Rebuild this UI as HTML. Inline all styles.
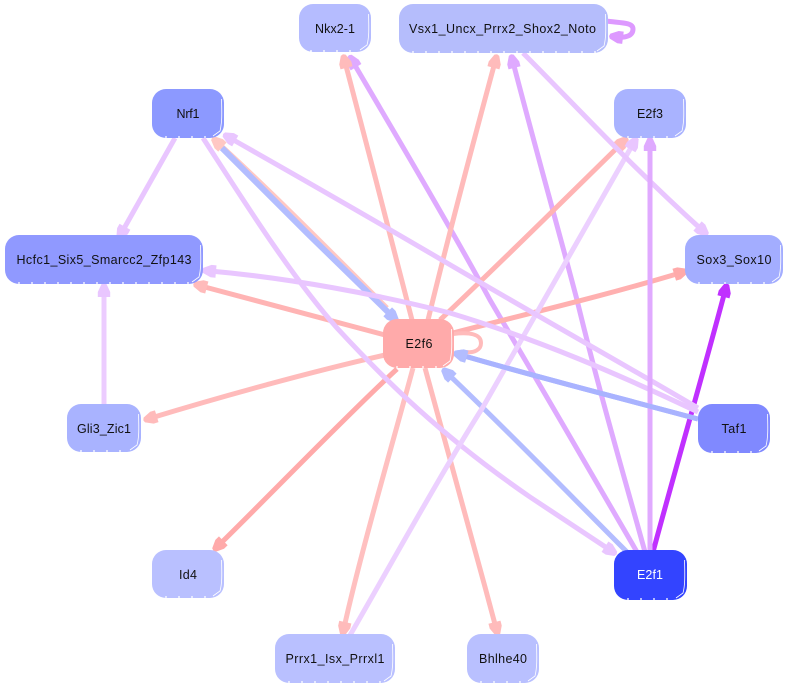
<!DOCTYPE html>
<html lang="en">
<head>
<meta charset="utf-8">
<title>Network diagram</title>
<style>
html,body{margin:0;padding:0;background:#fff;width:788px;height:689px;overflow:hidden}
svg{display:block}
text{font-family:"Liberation Sans",sans-serif;font-size:12.5px;text-anchor:middle;fill:#111}
.e{fill:none;stroke-width:5;stroke-linecap:butt;stroke-linejoin:round}
.d{fill:none;stroke:#fff;stroke-width:.8}
.b{fill:none;stroke:#fff;stroke-width:1.2;stroke-dasharray:2 11}
</style>
</head>
<body>
<svg width="788" height="689" viewBox="0 0 788 689" xmlns="http://www.w3.org/2000/svg">
<defs>
<marker id="a1" markerUnits="userSpaceOnUse" markerWidth="20" markerHeight="16" viewBox="-10 -8 20 16" refX="0" refY="0" orient="auto"><path d="M-6,-6.200 L-1,-6.200 L7,-2.500 L8,0 L7,2.500 L-1,6.200 L-6,6.200Z" fill="#ffbbbb"/></marker>
<marker id="a2" markerUnits="userSpaceOnUse" markerWidth="20" markerHeight="16" viewBox="-10 -8 20 16" refX="0" refY="0" orient="auto"><path d="M-6,-6.200 L-1,-6.200 L7,-2.500 L8,0 L7,2.500 L-1,6.200 L-6,6.200Z" fill="#dfaaff"/></marker>
<marker id="a3" markerUnits="userSpaceOnUse" markerWidth="20" markerHeight="16" viewBox="-10 -8 20 16" refX="0" refY="0" orient="auto"><path d="M-6,-6.200 L-1,-6.200 L7,-2.500 L8,0 L7,2.500 L-1,6.200 L-6,6.200Z" fill="#e9c6ff"/></marker>
<marker id="a4" markerUnits="userSpaceOnUse" markerWidth="20" markerHeight="16" viewBox="-10 -8 20 16" refX="0" refY="0" orient="auto"><path d="M-6,-6.200 L-1,-6.200 L7,-2.500 L8,0 L7,2.500 L-1,6.200 L-6,6.200Z" fill="#b3bdff"/></marker>
<marker id="a5" markerUnits="userSpaceOnUse" markerWidth="20" markerHeight="16" viewBox="-10 -8 20 16" refX="0" refY="0" orient="auto"><path d="M-6,-6.200 L-1,-6.200 L7,-2.500 L8,0 L7,2.500 L-1,6.200 L-6,6.200Z" fill="#c030ff"/></marker>
<marker id="a6" markerUnits="userSpaceOnUse" markerWidth="20" markerHeight="16" viewBox="-10 -8 20 16" refX="0" refY="0" orient="auto"><path d="M-6,-6.200 L-1,-6.200 L7,-2.500 L8,0 L7,2.500 L-1,6.200 L-6,6.200Z" fill="#ffaaaa"/></marker>
<marker id="a7" markerUnits="userSpaceOnUse" markerWidth="20" markerHeight="16" viewBox="-10 -8 20 16" refX="0" refY="0" orient="auto"><path d="M-6,-6.200 L-1,-6.200 L7,-2.500 L8,0 L7,2.500 L-1,6.200 L-6,6.200Z" fill="#ffc8c4"/></marker>
<marker id="a8" markerUnits="userSpaceOnUse" markerWidth="20" markerHeight="16" viewBox="-10 -8 20 16" refX="0" refY="0" orient="auto"><path d="M-6,-6.200 L-1,-6.200 L7,-2.500 L8,0 L7,2.500 L-1,6.200 L-6,6.200Z" fill="#dd99ff"/></marker>
</defs>

<!-- edges: purple -->
<path class="e" d="M653,552 C675,470 700,385 725,291" stroke="#c030ff" marker-end="url(#a5)"/>
<path class="e" d="M637,552 C600,488 530,368 490,300 C455,235 400,142 353,62" stroke="#dfaaff" marker-end="url(#a2)"/>
<path class="e" d="M645,552 C628,490 600,395 577,300 C560,235 535,147 513,62" stroke="#dfaaff" marker-end="url(#a2)"/>
<!-- edges: pink -->
<path class="e" d="M412,320 C395,253 365,138 345,62" stroke="#ffbbbb" marker-end="url(#a1)"/>
<path class="e" d="M428,320 C445,250 472,147 495,62" stroke="#ffbbbb" marker-end="url(#a1)"/>
<path class="e" d="M440,320 C490,273 560,204 622,143" stroke="#ffb4b4" marker-end="url(#a1)"/>
<path class="e" d="M413,368 C395,435 360,555 344,628" stroke="#ffc0c0" marker-end="url(#a1)"/>
<path class="e" d="M425,368 C440,425 470,530 496,628" stroke="#ffbbbb" marker-end="url(#a1)"/>
<path class="e" d="M397,369 C350,412 275,490 219,545" stroke="#ffaaaa" marker-end="url(#a6)"/>
<path class="e" d="M385,355 C310,372 220,397 151,418" stroke="#ffbbbb" marker-end="url(#a1)"/>
<path class="e" d="M385,335 C323,319 262,302 201,286" stroke="#ffb4b4" marker-end="url(#a1)"/>
<path class="e" d="M453,333 C530,313 600,297 680,273" stroke="#ffb0b0" marker-end="url(#a6)"/>
<path class="e" d="M387,308 C335,256 275,195 218,143" stroke="#ffc8c4" marker-end="url(#a7)"/>
<!-- edges: blue -->
<polyline class="e" style="stroke-width:6" points="222,148 307,233 392,316" stroke="#b3bdff" marker-end="url(#a4)"/>
<path class="e" d="M627,552 C570,495 505,428 448,374" stroke="#b3bdff" marker-end="url(#a4)"/>
<path class="e" d="M698,419 C620,398 540,378 461,355" stroke="#a9b3ff" marker-end="url(#a4)"/>
<!-- edges: pale -->
<path class="e" d="M175,138 C158,168 140,200 122,232" stroke="#e9c6ff" marker-end="url(#a3)"/>
<path class="e" d="M203,138 C240,195 290,275 337,328 C385,380 440,435 530,497 L610,550" stroke="#e9c6ff" marker-end="url(#a3)"/>
<polyline class="e" points="104,404 104,291" stroke="#ecccff" marker-end="url(#a3)"/>
<path class="e" d="M349,637 C385,575 440,475 483,407 C530,325 585,228 633,144" stroke="#ecd0ff" marker-end="url(#a3)"/>
<path class="e" d="M523,53 C573,103 630,165 702,230" stroke="#e9c6ff" marker-end="url(#a3)"/>
<path class="e" d="M698,412 C620,375 540,340 450,313 C380,295 290,278 210,271" stroke="#e9c6ff" marker-end="url(#a3)"/>
<path class="e" d="M698,408 C620,362 530,312 430,253 C360,212 290,172 230,138" stroke="#e9c6ff" marker-end="url(#a3)"/>
<polyline class="e" points="650,552 650,145" stroke="#e0aaff" marker-end="url(#a2)"/>
<!-- self loops -->
<path class="e" d="M606,21 C620,23 633,22 633,29 C633,36 625,38 617,37" stroke="#dd99ff" marker-end="url(#a8)"/>
<path class="e" style="stroke-width:4" d="M453,334 C470,332 481,334 481,343 C481,350 474,353 466,352" stroke="#ffbbbb"/>
<path class="e" d="M698,419 C620,398 540,378 461,355" stroke="#a9b3ff" marker-end="url(#a4)"/>

<!-- nodes -->
<rect x="299" y="4" width="72" height="48" rx="14" fill="#b5bcff"/>
<rect x="399" y="4" width="209" height="49" rx="14" fill="#b5bdfc"/>
<rect x="152" y="89" width="72" height="49" rx="14" fill="#8c99ff"/>
<rect x="5" y="235" width="198" height="49" rx="14" fill="#9099ff"/>
<rect x="614" y="89" width="72" height="49" rx="14" fill="#a9b3ff"/>
<rect x="685" y="235" width="98" height="49" rx="14" fill="#a3adff"/>
<rect x="383" y="319" width="71" height="49" rx="14" fill="#ffaaaa"/>
<rect x="67" y="404" width="74" height="48" rx="14" fill="#a9b3ff"/>
<rect x="698" y="404" width="72" height="49" rx="14" fill="#8089ff"/>
<rect x="152" y="550" width="72" height="48" rx="14" fill="#b9c0ff"/>
<rect x="614" y="550" width="73" height="50" rx="14" fill="#3344ff"/>
<rect x="275" y="634" width="120" height="49" rx="14" fill="#b9c0ff"/>
<rect x="467" y="634" width="72" height="49" rx="14" fill="#b9c0ff"/>

<!-- node edge highlights -->
<path class="d" d="M368.500,14 C369,30 369,38 367,45 L360,50"/>
<path class="d" d="M605.500,14 C606,30 606,38 604,46 L597,51"/>
<path class="d" d="M221.500,99 C222,115 222,123 220,131 L213,136"/>
<path class="d" d="M200.500,245 C201,261 201,269 199,277 L192,282"/>
<path class="d" d="M683.500,99 C684,115 684,123 682,131 L675,136"/>
<path class="d" d="M780.500,245 C781,261 781,269 779,277 L772,282"/>
<path class="d" d="M451.500,329 C452,345 452,353 450,361 L443,366"/>
<path class="d" d="M138.500,414 C139,430 139,438 137,445 L130,450"/>
<path class="d" d="M767.500,414 C768,430 768,438 766,446 L759,451"/>
<path class="d" d="M221.500,560 C222,576 222,584 220,591 L213,596"/>
<path class="d" d="M684.500,560 C685,576 685,586 683,593 L676,598"/>
<path class="d" d="M392.500,644 C393,660 393,668 391,676 L384,681"/>
<path class="d" d="M536.500,644 C537,660 537,668 535,676 L528,681"/>
<path class="b" d="M310,51 H360"/>
<path class="b" d="M412,52 H596"/>
<path class="b" d="M165,137 H212"/>
<path class="b" d="M18,283 H192"/>
<path class="b" d="M627,137 H675"/>
<path class="b" d="M698,283 H772"/>
<path class="b" d="M396,367 H443"/>
<path class="b" d="M80,451 H130"/>
<path class="b" d="M711,452 H759"/>
<path class="b" d="M165,597 H213"/>
<path class="b" d="M627,599 H676"/>
<path class="b" d="M288,682 H384"/>
<path class="b" d="M480,682 H528"/>

<!-- labels -->
<text x="335" y="33" textLength="40" lengthAdjust="spacing">Nkx2-1</text>
<text x="502.500" y="33" textLength="187" lengthAdjust="spacing">Vsx1_Uncx_Prrx2_Shox2_Noto</text>
<text x="188" y="118" textLength="23" lengthAdjust="spacing">Nrf1</text>
<text x="104" y="264" textLength="175" lengthAdjust="spacing">Hcfc1_Six5_Smarcc2_Zfp143</text>
<text x="650" y="118" textLength="26" lengthAdjust="spacing">E2f3</text>
<text x="734" y="264" textLength="75" lengthAdjust="spacing">Sox3_Sox10</text>
<text x="419" y="348" textLength="27" lengthAdjust="spacing">E2f6</text>
<text x="104" y="433" textLength="54" lengthAdjust="spacing">Gli3_Zic1</text>
<text x="734" y="433" textLength="25" lengthAdjust="spacing">Taf1</text>
<text x="188" y="579" textLength="18" lengthAdjust="spacing">Id4</text>
<text x="650" y="579" textLength="26" lengthAdjust="spacing" style="fill:#fff">E2f1</text>
<text x="335" y="663" textLength="99" lengthAdjust="spacing">Prrx1_Isx_Prrxl1</text>
<text x="503" y="663" textLength="48" lengthAdjust="spacing">Bhlhe40</text>
</svg>
</body>
</html>
